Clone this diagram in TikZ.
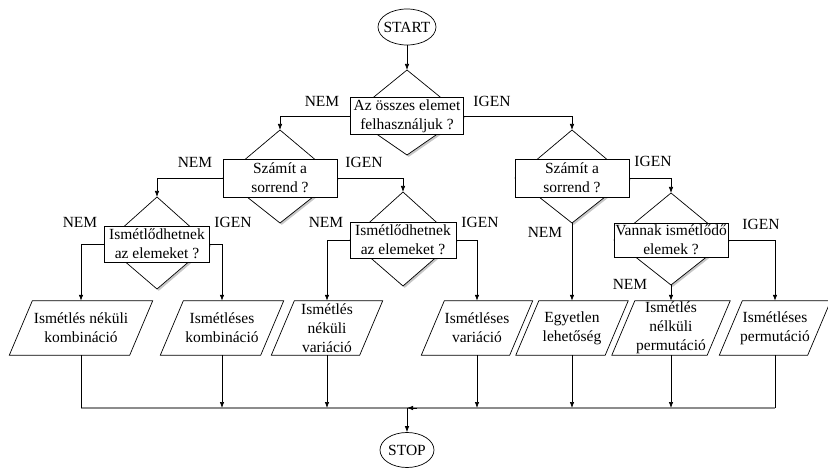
\documentclass[tikz,border=0pt]{standalone}
\usepackage{fontspec}
\setmainfont{Liberation Serif}
\usetikzlibrary{arrows.meta,shapes.geometric,calc}
% #1 name, #2 x, #3 y (rect centre), #4 width, #5 rect height, #6 diamond top y, #7 diamond bottom y, #8 text
\newcommand\decision[8]{%
  \fill[black!22] (#2+1.8,#6+1.8) -- (#2+#4/2+1.8,#3+1.8) -- (#2+1.8,#7+1.8) -- (#2-#4/2+1.8,#3+1.8) -- cycle;
  \draw[line,fill=white] (#2,#6) coordinate (#1t) -- (#2+#4/2,#3) -- (#2,#7) coordinate (#1b) -- (#2-#4/2,#3) -- cycle;
  \node[dbox,minimum width=#4pt,minimum height=#5pt] (#1) at (#2,#3) {#8};
}
% #1 name, #2 x, #3 width, #4 text
\newcommand\iobox[4]{%
  \node[pbox,minimum width=#3pt] (#1) at (#2,328) {#4};
  \draw[line] ([xshift=11.5pt]#1.north west) -- ([xshift=11.5pt]#1.north east)
     -- ([xshift=-11.5pt]#1.south east) -- ([xshift=-11.5pt]#1.south west) -- cycle;
}
\begin{document}
\begin{tikzpicture}[x=1pt,y=-1pt,
  every node/.style={font=\fontsize{15.5}{19}\selectfont},
  line/.style={line width=0.7pt},
  arr/.style={line width=0.7pt,-{Latex[length=6pt,width=4.5pt]}},
  dbox/.style={draw,line width=0.7pt,fill=white,inner sep=0.5pt,align=center},
  pbox/.style={inner sep=0pt,minimum height=54pt,align=center},
  term/.style={draw,ellipse,line width=0.7pt,inner sep=0pt},
  lab/.style={inner sep=0pt}]
\useasboundingbox (0,0) rectangle (828,468);

% terminals
\node[term,minimum width=58pt,minimum height=36pt] (start) at (407,27) {\makebox[0pt]{START}};
\node[term,minimum width=54pt,minimum height=35pt] (stop) at (407,450) {\makebox[0pt]{STOP}};

% decisions
\decision{d1}{407}{116}{113}{37}{70}{155}{Az összes elemet\\felhasználjuk ?}
\decision{d2}{280}{178}{114}{38}{130}{223}{Számít a\\sorrend ?}
\decision{d3}{572}{178}{114}{38}{130}{223}{Számít a\\sorrend ?}
\decision{d4}{157}{244}{105}{36}{197}{289}{Ismétlődhetnek\\az elemeket ?}
\decision{d5}{403}{240}{106}{36}{192}{286}{Ismétlődhetnek\\az elemeket ?}
\decision{d6}{671}{240}{114}{34}{193}{285}{Vannak ismétlődő\\elemek ?}

% outputs
\iobox{p1}{81}{120}{Ismétlés néküli\\kombináció}
\iobox{p2}{222}{100}{Ismétléses\\kombináció}
\iobox{p3}{327}{88}{Ismétlés\\néküli\\variáció}
\iobox{p4}{477}{88}{Ismétléses\\variáció}
\iobox{p5}{572}{89}{Egyetlen\\lehetőség}
\iobox{p6}{671}{95}{Ismétlés\\nélküli\\permutáció}
\iobox{p7}{775}{88}{Ismétléses\\permutáció}

% labels
\node[lab] (l1n) at (322,101) {NEM};
\node[lab] (l1i) at (492,101) {IGEN};
\node[lab] (l2n) at (195,162) {NEM};
\node[lab] (l2i) at (364,162) {IGEN};
\node[lab] (l3n) at (545,232) {NEM};
\node[lab] (l3i) at (653,161) {IGEN};
\node[lab] (l4n) at (80,222) {NEM};
\node[lab] (l4i) at (233,222) {IGEN};
\node[lab] (l5n) at (326,222) {NEM};
\node[lab] (l5i) at (480,222) {IGEN};
\node[lab] (l6n) at (630,284) {NEM};
\node[lab] (l6i) at (761,224) {IGEN};

% connectors
\draw[arr] (start) -- (d1t);
\draw[arr] (d1.west) -| (d2t);
\draw[arr] (d1.east) -| (d3t);
\draw[arr] (d2.west) -| (d4t);
\draw[arr] (d2.east) -| (d5t);
\draw[arr] (d3b) -- (p5.north);
\draw[arr] (d3.east) -| (d6t);
\draw[arr] (d4.west) -| (p1.north);
\draw[arr] (d4.east) -| (p2.north);
\draw[arr] (d5.west) -| (p3.north);
\draw[arr] (d5.east) -| (p4.north);
\draw[arr] (d6b) -- (p6.north);
\draw[arr] (d6.east) -| (p7.north);

% merge
\coordinate (j) at (407,408);
\coordinate (jr) at (417,408);
\draw[line width=1.6pt,black!45] (p1.south |- j) -- (p7.south |- j);
\draw[line] (p1.south) -- (p1.south |- j);
\draw[line] (p7.south) -- (p7.south |- j);
\draw[arr] (p2.south) -- (p2.south |- j);
\draw[arr] (p3.south) -- (p3.south |- j);
\draw[arr] (p4.south) -- (p4.south |- j);
\draw[arr] (p5.south) -- (p5.south |- j);
\draw[arr] (p6.south) -- (p6.south |- j);
\draw[arr] (jr) -- (j);
\draw[arr] (j) -- (stop);
\end{tikzpicture}
\end{document}
